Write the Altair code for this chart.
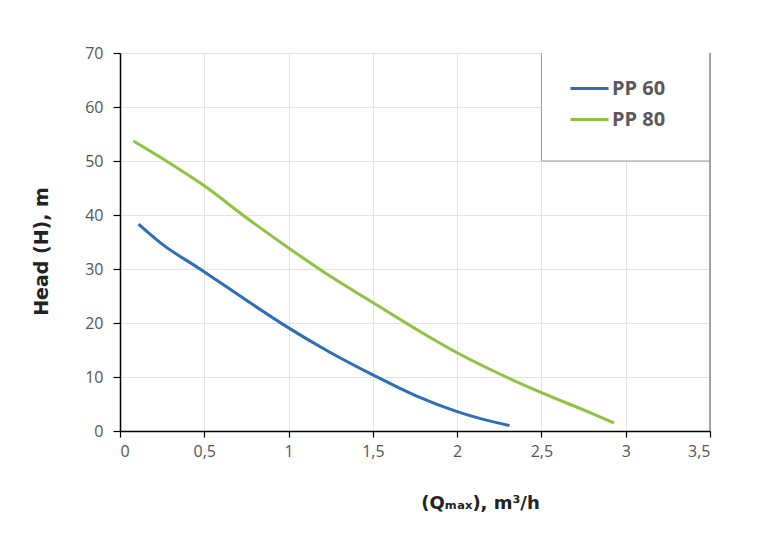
import altair as alt
import pandas as pd

# Data
series = ["PP 60", "PP 80"]
colors = ["#2E6EB5", "#8DC341"]

q_pp60 = [0.11, 0.25, 0.47, 0.75, 1.0, 1.25, 1.5, 1.75, 2.0, 2.15, 2.31]
h_pp60 = [38.3, 34.6, 30.1, 24.2, 19.1, 14.5, 10.4, 6.6, 3.6, 2.2, 1.0]

q_pp80 = [0.08, 0.3, 0.5, 0.75, 1.0, 1.25, 1.5, 1.75, 2.0, 2.25, 2.5, 2.75, 2.93]
h_pp80 = [53.7, 49.5, 45.4, 39.5, 33.9, 28.6, 23.8, 19.0, 14.5, 10.6, 7.1, 3.9, 1.5]

x_ticks = [0, 0.5, 1, 1.5, 2, 2.5, 3, 3.5]
y_ticks = [0, 10, 20, 30, 40, 50, 60, 70]

# legend box extent in data units
legend_box_q = [2.5, 3.5]
legend_box_h = [50, 70]

df = pd.concat([
    pd.DataFrame({"Q": q_pp60, "H": h_pp60, "series": series[0]}),
    pd.DataFrame({"Q": q_pp80, "H": h_pp80, "series": series[1]}),
])

xscale = alt.Scale(domain=[0, 3.5], nice=False, zero=False)
yscale = alt.Scale(domain=[0, 70], nice=False)

x_axis = alt.Axis(
    values=x_ticks,
    labelExpr="replace(toString(datum.value), '.', ',')",
    title="(Qₘₐₓ), m³/h",
    titleFont="DejaVu Sans", titleFontSize=18, titleFontWeight="bold", titleColor="#222222",
    titleX=360, titleY=72, titleBaseline="middle", titleAlign="center",
    labelFont="Open Sans", labelFontSize=16, labelColor="#555555", labelPadding=6,
    domainColor="#000000", domainWidth=1.5,
    tickColor="#000000", tickSize=6, tickWidth=1.2,
    gridColor="#E3E3E3", gridWidth=1,
)
y_axis = alt.Axis(
    values=y_ticks,
    title="Head (H), m",
    titleFont="DejaVu Sans", titleFontSize=19, titleFontWeight="bold", titleColor="#222222",
    titleX=-79, titleY=198, titleBaseline="middle", titleAlign="center", titleAngle=270,
    labelFont="Open Sans", labelFontSize=16, labelColor="#555555", labelPadding=10,
    domainColor="#000000", domainWidth=1.5,
    tickColor="#000000", tickSize=7, tickWidth=1.2,
    gridColor="#E3E3E3", gridWidth=1,
)

box_df = pd.DataFrame({"q0": [legend_box_q[0]], "q1": [legend_box_q[1]],
                       "h0": [legend_box_h[0]], "h1": [legend_box_h[1]]})

box = alt.Chart(box_df).mark_rect(fill="white").encode(
    x=alt.X("q0:Q", scale=xscale, axis=x_axis), x2="q1:Q",
    y=alt.Y("h0:Q", scale=yscale, axis=y_axis), y2="h1:Q",
)
box_left = alt.Chart(box_df).mark_rule(color="#9A9A9A", strokeWidth=1).encode(
    x="q0:Q", y="h0:Q", y2="h1:Q")
box_bottom = alt.Chart(box_df).mark_rule(color="#9A9A9A", strokeWidth=1).encode(
    x="q0:Q", x2="q1:Q", y="h0:Q")
right_border = alt.Chart(box_df).mark_rule(color="#8A8A8A", strokeWidth=1.5).encode(
    x="q1:Q", y=alt.datum(0), y2=alt.datum(70))

lines = alt.Chart(df).mark_line(strokeWidth=3, interpolate="monotone").encode(
    x=alt.X("Q:Q", scale=xscale, axis=x_axis),
    y=alt.Y("H:Q", scale=yscale, axis=y_axis),
    color=alt.Color("series:N", scale=alt.Scale(domain=series, range=colors),
                    legend=alt.Legend(
                        title=None, orient="none", legendX=449, legendY=15,
                        symbolType="stroke", symbolSize=1444, symbolStrokeWidth=3,
                        labelFont="Open Sans", labelFontSize=20, labelFontWeight="bold",
                        labelColor="#595959", labelOffset=2, rowPadding=0, padding=0,
                    )),
)

chart = alt.layer(box, box_left, box_bottom, right_border, lines).properties(
    width=590, height=378,
    autosize=alt.AutoSizeParams(type="none"),
    padding={"left": 112, "top": 45, "right": 50, "bottom": 100},
).configure_view(stroke=None).configure(background="white")

chart.save("out.html", embed_options={"renderer": "svg", "actions": False})
